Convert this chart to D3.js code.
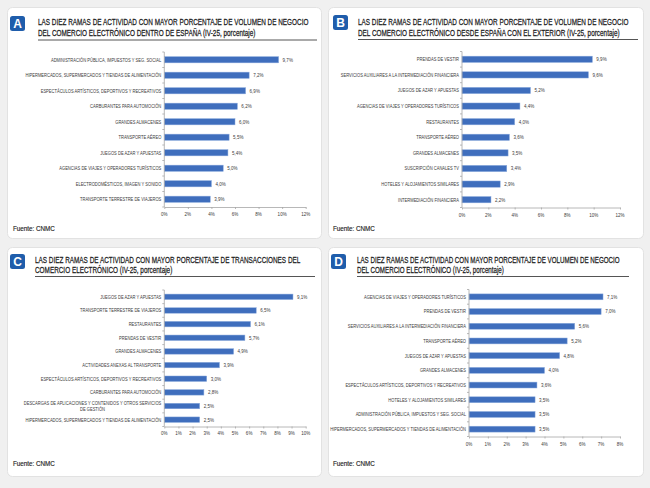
<!DOCTYPE html>
<html><head><meta charset="utf-8">
<script src="https://cdn.jsdelivr.net/npm/d3@7/dist/d3.min.js"></script>
<style>
html,body{margin:0;padding:0;background:#f0f0f0;}
svg{display:block;}
</style></head>
<body>
<svg id="chart" width="650" height="488"></svg>
<script>
// ---------- DATA ----------
const titleA = ["LAS DIEZ RAMAS DE ACTIVIDAD CON MAYOR PORCENTAJE DE VOLUMEN DE NEGOCIO",
                "DEL COMERCIO ELECTRÓNICO DENTRO DE ESPAÑA (IV-25, porcentaje)"];
const catsA = ["ADMINISTRACIÓN PÚBLICA, IMPUESTOS Y SEG. SOCIAL",
  "HIPERMERCADOS, SUPERMERCADOS Y TIENDAS DE ALIMENTACIÓN",
  "ESPECTÁCULOS ARTÍSTICOS, DEPORTIVOS Y RECREATIVOS",
  "CARBURANTES PARA AUTOMOCIÓN", "GRANDES ALMACENES", "TRANSPORTE AÉREO",
  "JUEGOS DE AZAR Y APUESTAS", "AGENCIAS DE VIAJES Y OPERADORES TURÍSTICOS",
  "ELECTRODOMÉSTICOS, IMAGEN Y SONIDO", "TRANSPORTE TERRESTRE DE VIAJEROS"];
const valsA = [9.7, 7.2, 6.9, 6.2, 6.0, 5.5, 5.4, 5.0, 4.0, 3.9];
const ticksA = [0, 2, 4, 6, 8, 10, 12];

const titleB = ["LAS DIEZ RAMAS DE ACTIVIDAD CON MAYOR PORCENTAJE DE VOLUMEN DE NEGOCIO",
                "DEL COMERCIO ELECTRÓNICO DESDE ESPAÑA CON EL EXTERIOR (IV-25, porcentaje)"];
const catsB = ["PRENDAS DE VESTIR", "SERVICIOS AUXILIARES A LA INTERMEDIACIÓN FINANCIERA",
  "JUEGOS DE AZAR Y APUESTAS", "AGENCIAS DE VIAJES Y OPERADORES TURÍSTICOS",
  "RESTAURANTES", "TRANSPORTE AÉREO", "GRANDES ALMACENES", "SUSCRIPCIÓN CANALES TV",
  "HOTELES  Y ALOJAMIENTOS SIMILARES", "INTERMEDIACIÓN FINANCIERA"];
const valsB = [9.9, 9.6, 5.2, 4.4, 4.0, 3.6, 3.5, 3.4, 2.9, 2.2];
const ticksB = [0, 2, 4, 6, 8, 10, 12];

const titleC = ["LAS DIEZ RAMAS DE ACTIVIDAD CON MAYOR PORCENTAJE DE TRANSACCIONES DEL",
                "COMERCIO ELECTRÓNICO (IV-25, porcentaje)"];
const catsC = ["JUEGOS DE AZAR Y APUESTAS", "TRANSPORTE TERRESTRE DE VIAJEROS",
  "RESTAURANTES", "PRENDAS DE VESTIR", "GRANDES ALMACENES",
  "ACTIVIDADES ANEXAS AL TRANSPORTE",
  "ESPECTÁCULOS ARTÍSTICOS, DEPORTIVOS Y RECREATIVOS",
  "CARBURANTES PARA AUTOMOCIÓN",
  "DESCARGAS DE APLICACIONES Y CONTENIDOS Y OTROS SERVICIOS\nDE GESTIÓN",
  "HIPERMERCADOS, SUPERMERCADOS Y TIENDAS DE ALIMENTACIÓN"];
const valsC = [9.1, 6.5, 6.1, 5.7, 4.9, 3.9, 3.0, 2.8, 2.5, 2.5];
const ticksC = [0, 1, 2, 3, 4, 5, 6, 7, 8, 9, 10];

const titleD = ["LAS DIEZ RAMAS DE ACTIVIDAD CON MAYOR PORCENTAJE DE VOLUMEN DE NEGOCIO",
                "DEL COMERCIO ELECTRÓNICO (IV-25, porcentaje)"];
const catsD = ["AGENCIAS DE VIAJES Y OPERADORES TURÍSTICOS", "PRENDAS DE VESTIR",
  "SERVICIOS AUXILIARES A LA INTERMEDIACIÓN FINANCIERA", "TRANSPORTE AÉREO",
  "JUEGOS DE AZAR Y APUESTAS", "GRANDES ALMACENES",
  "ESPECTÁCULOS ARTÍSTICOS, DEPORTIVOS Y RECREATIVOS",
  "HOTELES  Y ALOJAMIENTOS SIMILARES",
  "ADMINISTRACIÓN PÚBLICA, IMPUESTOS Y SEG. SOCIAL",
  "HIPERMERCADOS, SUPERMERCADOS Y TIENDAS DE ALIMENTACIÓN"];
const valsD = [7.1, 7.0, 5.6, 5.2, 4.8, 4.0, 3.6, 3.5, 3.5, 3.5];
const ticksD = [0, 1, 2, 3, 4, 5, 6, 7, 8];

const badges = ["A", "B", "C", "D"];
const source = "Fuente: CNMC";

// ---------- LAYOUT ----------
const panels = [
  {badge: badges[0], title: titleA, cats: catsA, vals: valsA, ticks: ticksA,
   card: [7, 7, 314, 231], bx: 10, by: 16, tx: 38, ty: [25, 36], ul: [38, 317, 40],
   ax: [164.3, 305.7], ay: [52, 207], tly: 215.5, fy: 230.5, fx: 13, tsx: 0.71},
  {badge: badges[1], title: titleB, cats: catsB, vals: valsB, ticks: ticksB,
   card: [328, 7, 315, 231], bx: 333, by: 15, tx: 358, ty: [25, 36], ul: [358, 638, 39.5],
   ax: [462, 620], ay: [51.5, 207.5], tly: 217, fy: 230.5, fx: 333, tsx: 0.71},
  {badge: badges[2], title: titleC, cats: catsC, vals: valsC, ticks: ticksC,
   card: [7, 247, 314, 229], bx: 10, by: 254, tx: 35, ty: [263, 273], ul: [35, 315, 276.5],
   ax: [164.3, 305.7], ay: [290, 426.5], tly: 434.5, fy: 465.5, fx: 13, tsx: 0.71},
  {badge: badges[3], title: titleD, cats: catsD, vals: valsD, ticks: ticksD,
   card: [328, 247, 315, 229], bx: 331, by: 254, tx: 357, ty: [263, 273], ul: [357, 629, 276.5],
   ax: [469, 620], ay: [289.5, 436.5], tly: 445.5, fy: 465.5, fx: 333, tsx: 0.69}
];

const FONT = "'Liberation Sans', Arial, sans-serif";
const svg = d3.select("#chart");

function ctext(g, x, y, str, size, sx, anchor, fill, weight) {
  return g.append("text")
    .attr("transform", `translate(${x},${y}) scale(${sx},1)`)
    .attr("text-anchor", anchor || "start")
    .attr("font-family", FONT)
    .attr("font-size", size)
    .attr("font-weight", weight || "normal")
    .attr("fill", fill || "#333")
    .text(str);
}

panels.forEach(p => {
  const g = svg.append("g");
  const [cx, cy, cw, ch] = p.card;
  g.append("rect").attr("x", cx + 0.5).attr("y", cy + 0.5).attr("width", cw).attr("height", ch)
    .attr("rx", 5).attr("fill", "#ffffff").attr("stroke", "#e2e2e2");

  // badge
  g.append("rect").attr("x", p.bx).attr("y", p.by).attr("width", 15).attr("height", 15)
    .attr("rx", 2.5).attr("fill", "#1f5dab");
  g.append("text").attr("x", p.bx + 7.5).attr("y", p.by + 12).attr("text-anchor", "middle")
    .attr("font-family", FONT).attr("font-weight", "bold").attr("font-size", 12)
    .attr("fill", "#fff").text(p.badge);

  // title
  p.title.forEach((line, i) => ctext(g, p.tx, p.ty[i], line, 9, p.tsx, "start", "#222", "normal")
    .attr("stroke", "#222").attr("stroke-width", 0.25));
  g.append("line").attr("x1", p.ul[0]).attr("x2", p.ul[1]).attr("y1", p.ul[2]).attr("y2", p.ul[2])
    .attr("stroke", "#555").attr("stroke-width", 1);

  // scales
  const x = d3.scaleLinear().domain([p.ticks[0], p.ticks[p.ticks.length - 1]]).range(p.ax);
  const y = d3.scaleBand().domain(p.cats).range(p.ay).paddingInner(0.6).paddingOuter(0.3);

  // bars
  g.selectAll("rect.bar").data(p.vals).join("rect").attr("class", "bar")
    .attr("x", x(0)).attr("y", (d, i) => y(p.cats[i]))
    .attr("width", d => x(d) - x(0)).attr("height", y.bandwidth())
    .attr("fill", "#3f6ebd").attr("stroke", "#8aa9dc").attr("stroke-width", 0.5);

  // value labels
  p.vals.forEach((v, i) => {
    ctext(g, x(v) + 4, y(p.cats[i]) + y.bandwidth() / 2 + 1.9,
      d3.format(".1f")(v).replace(".", ",") + "%", 5.4, 0.84, "start", "#3a3a3a");
  });

  // category labels
  const LS = 5.5, LSX = 0.74;
  p.cats.forEach((c, i) => {
    const yc = y(p.cats[i]) + y.bandwidth() / 2;
    const lines = c.split("\n");
    if (lines.length === 1) {
      ctext(g, p.ax[0] - 3, yc + 1.9, c, LS, LSX, "end", "#3a3a3a");
    } else {
      const t1 = ctext(g, p.ax[0] - 3, yc - 1.5, lines[0], LS, LSX, "end", "#3a3a3a");
      const w = t1.node().getComputedTextLength() * LSX;
      ctext(g, p.ax[0] - 3 - w / 2, yc + 5.3, lines[1], LS, LSX, "middle", "#3a3a3a");
    }
  });

  // vertical axis
  g.append("line").attr("x1", p.ax[0]).attr("x2", p.ax[0]).attr("y1", p.ay[0]).attr("y2", p.ay[1])
    .attr("stroke", "#a6a6a6").attr("stroke-width", 0.8);
  d3.range(p.cats.length + 1).forEach(k => {
    const yy = p.ay[0] + k * (p.ay[1] - p.ay[0]) / p.cats.length;
    g.append("line").attr("x1", p.ax[0] - 2).attr("x2", p.ax[0]).attr("y1", yy).attr("y2", yy)
      .attr("stroke", "#a6a6a6").attr("stroke-width", 0.8);
  });

  // horizontal axis
  const axG = g.append("g").attr("transform", `translate(0,${p.ay[1]})`)
    .call(d3.axisBottom(x).tickValues(p.ticks).tickSize(2).tickSizeOuter(0).tickFormat(() => ""));
  axG.select(".domain").attr("stroke", "#a6a6a6").attr("stroke-width", 0.8);
  axG.selectAll(".tick line").attr("stroke", "#a6a6a6").attr("stroke-width", 0.8);
  p.ticks.forEach(t => ctext(g, x(t), p.tly, t + "%", 5.4, 0.84, "middle", "#3a3a3a"));

  // source
  ctext(g, p.fx, p.fy, source, 7, 0.9, "start", "#222").attr("stroke", "#222").attr("stroke-width", 0.15);
});
</script>
</body></html>
